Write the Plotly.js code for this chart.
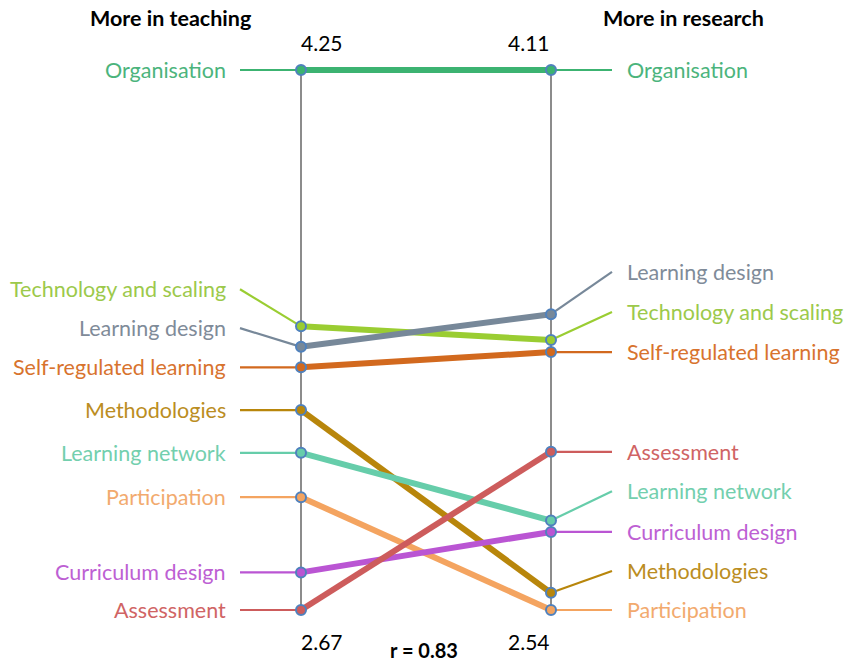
<!DOCTYPE html>
<html><head><meta charset="utf-8">
<script src="https://cdn.plot.ly/plotly-3.0.1.min.js"></script>
<style>html,body{margin:0;padding:0;background:#fff}#chart{width:848px;height:662px}</style>
</head><body><div id="chart"></div>
<script>
// ---- data ----
const categories = ["Organisation","Technology and scaling","Learning design","Self-regulated learning","Methodologies","Learning network","Participation","Curriculum design","Assessment"];
const teaching = [4.25, 3.50, 3.44, 3.38, 3.255, 3.13, 3.00, 2.78, 2.67];
const research = [4.11, 3.325, 3.40, 3.29, 2.59, 2.80, 2.54, 2.767, 3.00];
const sideTitles = ["More in teaching", "More in research"];
const correlationLabel = "r = 0.83";

// ---- styles / layout (not data) ----
const colors = ["#3cb371","#9acd32","#778899","#d2691e","#b8860b","#66cdaa","#f4a460","#ba55d3","#cd5c5c"];
const labelColors = ["#4bb47c","#9cc94b","#7f8b99","#d8732e","#bb8d22","#73cfae","#f2aa6e","#bd60d3","#d06464"];
// label position overrides (normalised axis units), null = at the point
const leftLabelPos  = [null, 0.594, 0.522, null, null, null, null, null, null];
const rightLabelPos = [null, 0.552, 0.626, null, 0.0722, 0.220, null, null, null];

const tMin = Math.min(...teaching), tMax = Math.max(...teaching);
const rMin = Math.min(...research), rMax = Math.max(...research);
const nt = v => (v - tMin) / (tMax - tMin);
const nr = v => (v - rMin) / (rMax - rMin);

const FONT = "Lato, 'Open Sans', sans-serif";
const LS = 21.5;
const traces = [];
traces.push({x:[0,0], y:[0,1], mode:"lines", line:{color:"#8c8c8c", width:2}, hoverinfo:"skip", showlegend:false});
traces.push({x:[1,1], y:[0,1], mode:"lines", line:{color:"#8c8c8c", width:2}, hoverinfo:"skip", showlegend:false});

const annotations = [];
categories.forEach((c,i)=>{
  const yl = nt(teaching[i]), yr = nr(research[i]);
  const ll = leftLabelPos[i] == null ? yl : leftLabelPos[i];
  const rl = rightLabelPos[i] == null ? yr : rightLabelPos[i];
  traces.push({x:[-0.244,0], y:[ll,yl], mode:"lines", line:{color:colors[i], width:2.2}, hoverinfo:"skip", showlegend:false});
  traces.push({x:[1,1.244], y:[yr,rl], mode:"lines", line:{color:colors[i], width:2.2}, hoverinfo:"skip", showlegend:false});
  annotations.push({x:-0.292, y:ll, xref:"x", yref:"y", text:c, showarrow:false, xanchor:"right", yanchor:"middle", font:{family:FONT, size:LS, color:labelColors[i]}});
  annotations.push({x:1.296, y:rl, xref:"x", yref:"y", text:c, showarrow:false, xanchor:"left", yanchor:"middle", font:{family:FONT, size:LS, color:labelColors[i]}});
});
categories.forEach((c,i)=>{
  traces.push({x:[0,1], y:[nt(teaching[i]), nr(research[i])], mode:"lines", name:c,
    line:{color:colors[i], width:6}, hoverinfo:"skip", showlegend:false});
});
categories.forEach((c,i)=>{
  traces.push({x:[0,1], y:[nt(teaching[i]), nr(research[i])], mode:"markers", name:c,
    marker:{color:colors[i], size:10, line:{color:"#4f81bd", width:2}}, showlegend:false});
});

const P = (px)=> 1 - px/662;
const txt = (x,y,t,size)=>({xref:"paper", yref:"paper", x:x/848, y:P(y), text:t, showarrow:false, xanchor:"center", yanchor:"middle", font:{family:FONT, size:size, color:"#000"}});
annotations.push(txt(170,18,"<b>"+sideTitles[0]+"</b>",21.5));
annotations.push(txt(683,18,"<b>"+sideTitles[1]+"</b>",21.5));
annotations.push(txt(322,43,tMax.toFixed(2),21));
annotations.push(txt(529,43,rMax.toFixed(2),21));
annotations.push(txt(322,641,tMin.toFixed(2),21));
annotations.push(txt(529,641,rMin.toFixed(2),21));
annotations.push(txt(424,650,"<b>"+correlationLabel+"</b>",20));

const layout = {
  width:848, height:662, margin:{l:0,r:0,t:0,b:0},
  paper_bgcolor:"#fff", plot_bgcolor:"#fff",
  xaxis:{range:[-301/250, 547/250], visible:false, fixedrange:true},
  yaxis:{range:[-52/540, 610/540], visible:false, fixedrange:true},
  annotations:annotations, showlegend:false, hovermode:false
};
Plotly.newPlot("chart", traces, layout, {displayModeBar:false, staticPlot:true});
</script></body></html>
